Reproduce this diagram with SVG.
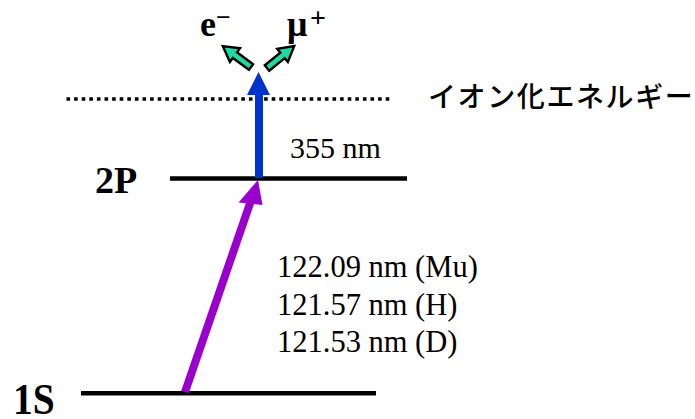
<svg xmlns="http://www.w3.org/2000/svg" width="695" height="419" viewBox="0 0 695 419">
<style>
.lvl{stroke:#000;stroke-width:4.6;fill:none}
.serif{font-family:"Liberation Serif","Times New Roman",serif;fill:#000}
.b{font-weight:bold}
.jp{font-family:"Noto Sans CJK JP","Noto Sans",sans-serif;fill:#000}
.green{fill:#1FD9A0;stroke:#000;stroke-width:2.4;stroke-linejoin:miter}
</style>
<rect width="695" height="419" fill="#fff"/>
<g id="level-1S">
<line class="lvl" x1="81" y1="393.3" x2="376" y2="393.3"/>
<text class="serif b" font-size="39.5" transform="translate(13,414) scale(1,1.12)">1S</text>
</g>
<g id="level-2P">
<line class="lvl" x1="170" y1="178.5" x2="407" y2="178.5"/>
<text class="serif b" x="95" y="193" font-size="38">2P</text>
</g>
<g id="ionization">
<line x1="66.5" y1="99" x2="390" y2="99" stroke="#000" stroke-width="3.6" stroke-dasharray="3.6 4"/>
<text class="jp" x="428" y="107" font-size="28" font-weight="500" letter-spacing="1.6">イオン化エネルギー</text>
</g>
<g id="particles">
<text class="serif b" x="200" y="36" font-size="36">e</text>
<text class="serif b" x="216" y="26" font-size="26">−</text>
<text class="serif b" x="287" y="36" font-size="36">μ</text>
<text class="serif b" x="310" y="27" font-size="28">+</text>
</g>
<g id="connectors">
<g id="arrow-1S-2P">
<line x1="185" y1="392" x2="251.5" y2="199" stroke="#9900CC" stroke-width="8"/>
<polygon points="258,180 238.5,202.5 262.5,205" fill="#9900CC"/>
</g>
<g id="arrow-2P-ion">
<rect x="255" y="93" width="8" height="85" fill="#0033CC"/>
<polygon points="258.5,72 247,95 270,95" fill="#0033CC"/>
</g>
<polygon class="green" transform="translate(251,67) rotate(216.5)" points="0,-3.5 20,-3.5 20,-8.5 35,0 20,8.5 20,3.5 0,3.5"/>
<polygon class="green" transform="translate(267,68) rotate(-39)" points="0,-3.5 20,-3.5 20,-8.5 35,0 20,8.5 20,3.5 0,3.5"/>
</g>
<g id="labels">
<text class="serif" x="290" y="158" font-size="30">355 nm</text>
<text class="serif" x="277" y="277" font-size="30.5">122.09 nm (Mu)</text>
<text class="serif" x="277" y="315" font-size="30.5">121.57 nm (H)</text>
<text class="serif" x="277" y="352" font-size="30.5">121.53 nm (D)</text>
</g>
</svg>
